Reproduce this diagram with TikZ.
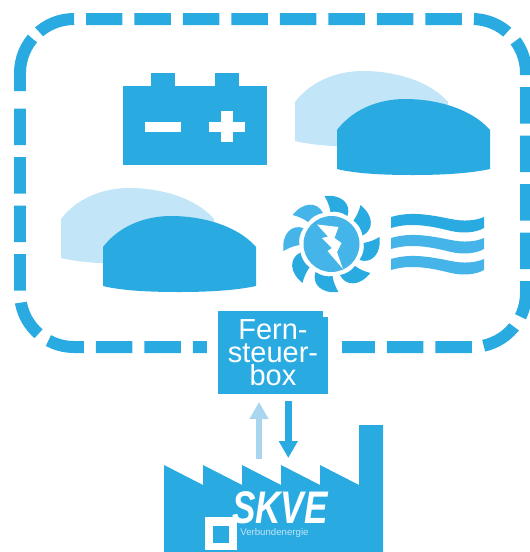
\documentclass[tikz,border=0pt]{standalone}
\usepackage{fontspec}
\setmainfont{Liberation Sans}
\usetikzlibrary{arrows.meta,positioning,calc}

\definecolor{skvblue}{HTML}{29ABE2}
\definecolor{skvmid}{HTML}{45B4E8}
\definecolor{skvpale}{HTML}{C2E5F7}
\definecolor{skvarrow}{HTML}{A9D6EE}

\begin{document}
\begin{tikzpicture}[x=0.02cm, y=-0.02cm,
  >=Stealth,
  border/.style={draw=skvblue, line width=0.24cm, rounded corners=1.08cm,
                 dash pattern=on 0.73cm off 0.24cm},
  remote/.style={fill=skvblue, text=white, minimum width=2.2cm, minimum height=1.66cm,
                 inner sep=0pt, align=center, font=\fontsize{16.5}{13}\selectfont},
  link/.style={line width=0.13cm},
  dome/.pic={
    \fill[pic actions] (0,31) .. controls (16,10) and (42,0) .. (68,0)
      .. controls (100,0) and (135,10) .. (153,31) -- (153,70)
      .. controls (130,75) and (100,76) .. (76,76)
      .. controls (50,76) and (20,75) .. (0,70) -- cycle;
  },
  blade/.pic={
    \fill[pic actions] (-7,-48) .. controls (10,-50) and (20,-40) .. (16,-28)
      .. controls (10,-32) and (4,-33) .. (-1,-32)
      .. controls (-2,-38) and (-4,-43) .. (-7,-48) -- cycle;
  },
  wave/.pic={
    \fill[pic actions] (0,4) .. controls (20,-2) and (40,2) .. (60,6)
      .. controls (72,8.5) and (84,8) .. (93,4) -- (93,15)
      .. controls (84,20) and (72,20.5) .. (60,18)
      .. controls (40,13) and (20,9) .. (0,15) -- cycle;
  },
]
\useasboundingbox (0,0) rectangle (529,552);

% Dashed border
\draw[border] (86,19) -- (526,19) -- (526,347) -- (20,347) -- (20,103);
\draw[border, dash pattern=on 0.76cm off 0.19cm on 1.12cm off 1cm]
  (74,19) -- (20,19) -- (20,91);

% Battery
\fill[skvblue] (123,86) rectangle (267,165);
\fill[skvblue] (151,73) rectangle (175,86);
\fill[skvblue] (215,73) rectangle (239,86);
\fill[white] (145,122) rectangle (181,132);
\fill[white] (209,122) rectangle (245,132);
\fill[white] (221,111) rectangle (233,142);

% Domes
\pic[skvpale] at (295,71) {dome};
\pic[skvblue] at (337,99) {dome};
\pic[skvpale] at (61,188) {dome};
\pic[skvblue] at (103,216) {dome};

% Turbine
\foreach \ang/\shade in {0/skvblue, 45/skvmid, 90/skvmid, 135/skvblue,
                         180/skvblue, 225/skvblue, 270/skvblue, 315/skvblue} {
  \pic[\shade, rotate=\ang] at (331.5,244) {blade};
}
\fill[skvmid] (331.5,244) circle (28);
\fill[white] (317,224.5) -- (338.5,227) -- (334.5,238) -- (341.5,243) -- (337,252)
  -- (343,269) -- (327.5,251) -- (332,248) -- (322,238) -- (328,236.5) -- cycle;

% Water
\pic[skvblue] at (391,213) {wave};
\pic[skvmid] at (391,234) {wave};
\pic[skvmid] at (391,255) {wave};

% Remote box
\fill[white] (207,335) rectangle (342,360);
\node[remote] (box) at (273,352.5) {Fern-\\steuer-\\box};
\fill[white] (322.5,310) rectangle (329,316.5);

% Factory
\fill[skvblue] (164,465) -- (203,485) -- (203,465) -- (242,485) -- (242,465)
  -- (281,485) -- (281,465) -- (320,485) -- (320,465) -- (359,485)
  -- (359,425) -- (383,425) -- (383,552) -- (164,552) -- cycle;

% Logo
\fill[white] (205,517) rectangle (237,550);
\fill[skvblue] (213,526) rectangle (229,543);
\node[text=white, font=\fontsize{20}{20}\bfseries\itshape\selectfont, yscale=1.3,
  inner sep=0pt] (logo) at (280,508) {SKVE};
\node[text=skvpale, font=\fontsize{5.5}{6}\selectfont, inner sep=0pt, anchor=west]
  (sub) at (240,533) {Verbundenergie};

% Links
\coordinate (upfoot) at (259,459);
\coordinate (uphead) at (259,402);
\coordinate (downfoot) at (288.3,401);
\coordinate (downhead) at (288.3,458);
\draw[link, draw=skvarrow, -{Stealth[length=0.34cm, width=0.36cm, inset=0pt, fill=skvarrow]}] (upfoot) -- (uphead);
\draw[link, draw=skvblue, -{Stealth[length=0.34cm, width=0.36cm, inset=0pt]}] (downfoot) -- (downhead);

\end{tikzpicture}
\end{document}
